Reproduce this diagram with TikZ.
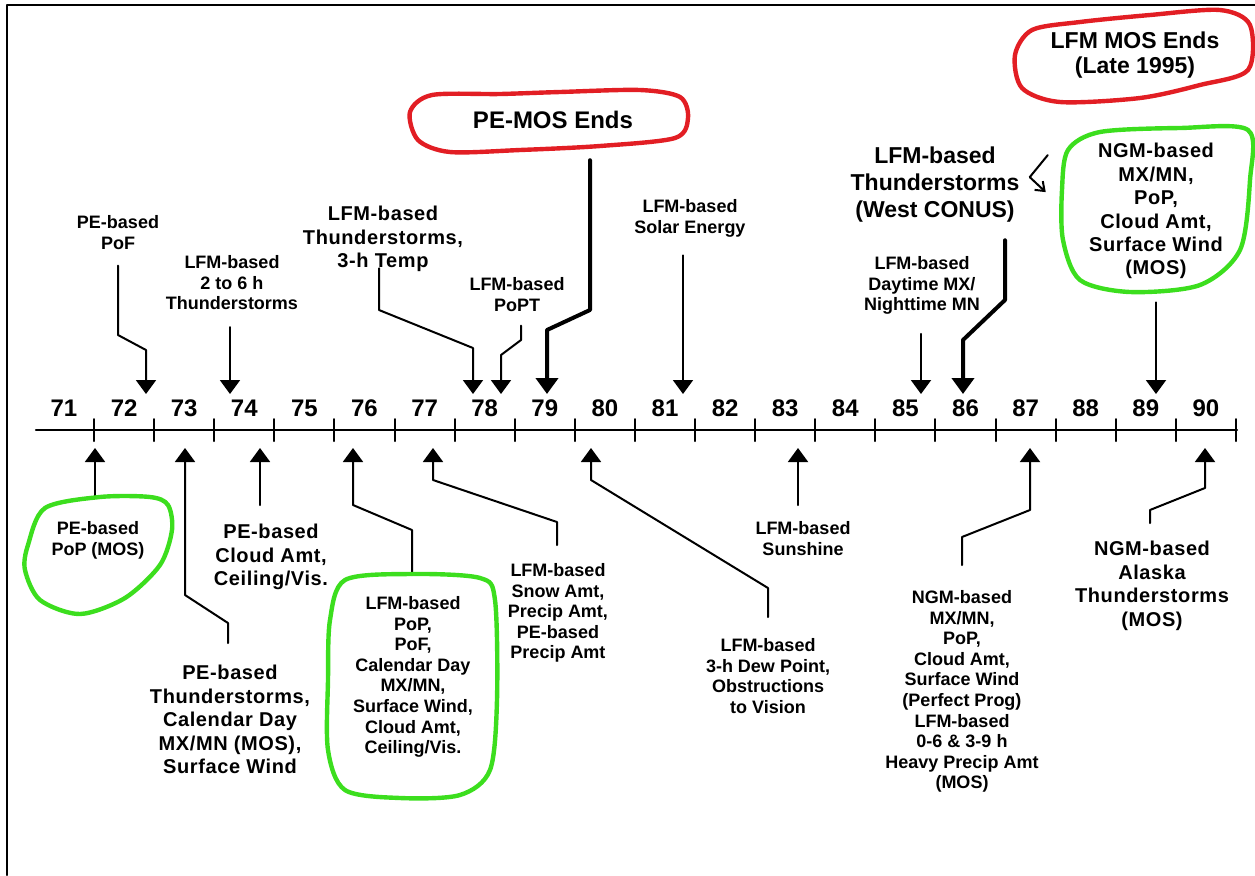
\documentclass[tikz,border=0pt]{standalone}
\usepackage{fontspec}
\setmainfont{Liberation Sans}
\newfontfamily\wideface[LetterSpace=3]{Liberation Sans}
\usetikzlibrary{arrows.meta}
\definecolor{markred}{RGB}{226,30,36}
\definecolor{markgreen}{RGB}{60,222,30}

\begin{document}
\begin{tikzpicture}[x=0.5pt, y=-0.5pt, line join=round, line cap=round,
	>={Triangle[width=10pt,length=7pt]},
	year/.style={font=\fontsize{12}{12}\selectfont\bfseries, inner sep=0pt},
	cond/.style={anchor=north, align=center, inner sep=0pt, font=\fontsize{9}{10.3}\selectfont\bfseries},
	wide/.style={anchor=north, align=center, inner sep=0pt, font=\wideface\fontsize{10}{11.7}\selectfont\bfseries},
	big/.style={anchor=north, align=center, inner sep=0pt, font=\fontsize{11.5}{13.5}\selectfont\bfseries},
	link/.style={line width=1pt, ->},
	heavy/.style={line width=2pt, -{Triangle[width=11pt,length=8pt]}},
	ring/.style={line width=2.2pt}]
	\useasboundingbox (0,0) rectangle (1255,875);
	\draw[line width=1.2pt] (7,875) -- (7,5) -- (1255,5); % khung

	% truc thoi gian
	\draw[line width=1.2pt] (36,430) -- (1237,430);
	\foreach \k in {0,...,19}{
		\pgfmathtruncatemacro\yr{71+\k}
		\draw[line width=1pt] ({94+60.1*\k},419) -- ({94+60.1*\k},441);
		\node[year] (y\yr) at ({64+60.1*\k},408) {\yr};
	}

	% phia tren truc
	\node[cond] (pof) at (118,215) {PE-based\\PoF};
	\node[cond] (thsix) at (232,255) {LFM-based\\2 to 6 h\\Thunderstorms};
	\node[wide] (thtemp) at (383,206) {LFM-based\\Thunderstorms,\\3-h Temp};
	\node[cond] (popt) at (517,277) {LFM-based\\PoPT};
	\node[cond] (solar) at (690,199) {LFM-based\\Solar Energy};
	\node[big] (wconus) at (935,146) {LFM-based\\Thunderstorms\\(West CONUS)};
	\node[cond] (daymx) at (922,256) {LFM-based\\Daytime MX/\\Nighttime MN};
	\node[wide] (ngmtop) at (1156,143) {NGM-based\\MX/MN,\\PoP,\\Cloud Amt,\\Surface Wind\\(MOS)};
	\node[inner sep=0pt, font=\fontsize{12}{14}\selectfont\bfseries] (pemos) at (553,120) {PE-MOS Ends};
	\node[align=center, inner sep=0pt, font=\fontsize{11.5}{12.5}\selectfont\bfseries] (lfmend) at (1135,55) {LFM MOS Ends\\(Late 1995)};

	\coordinate (pof-end) at (146,394);
	\coordinate (thsix-end) at (230,394);
	\coordinate (thtemp-end) at (473,394);
	\coordinate (popt-end) at (501,394);
	\coordinate (pemos-end) at (547,394);
	\coordinate (solar-end) at (683,394);
	\coordinate (daymx-end) at (921,394);
	\coordinate (wconus-end) at (963,394);
	\coordinate (ngmtop-end) at (1156,394);

	\draw[link] (pof.south) ++(0,16) -- (118,335) -- (146,350) -- (pof-end);
	\draw[link] (thsix.south) ++(-2,17) -- (thsix-end);
	\draw[link] (thtemp.south) ++(-4,-4) -- (379,310) -- (473,348) -- (thtemp-end);
	\draw[link] (popt.south) ++(4,14) -- (521,340) -- (501,355) -- (popt-end);
	\draw[heavy] (pemos.south) ++(37,31) -- (590,310) -- (547,330) -- (pemos-end);
	\draw[link] (solar.south) ++(-7,18) -- (solar-end);
	\draw[link] (daymx.south) ++(-1,19) -- (daymx-end);
	\draw[heavy] (wconus.south) ++(70,18) -- (1005,300) -- (963,340) -- (wconus-end);
	\draw[link] (ngmtop.south) ++(0,23) -- (ngmtop-end);
	\draw[line width=1pt, -{Straight Barb[length=4pt,width=6pt]}] (wconus.east) ++(28,-29) -- ++(-18,22) -- ++(16,15);

	% phia duoi truc
	\node[cond] (popmos) at (98,521) {PE-based\\PoP (MOS)};
	\node[wide] (thunpe) at (230,665) {PE-based\\Thunderstorms,\\Calendar Day\\MX/MN (MOS),\\Surface Wind};
	\node[wide] (cloudpe) at (271,524) {PE-based\\Cloud Amt,\\Ceiling/Vis.};
	\node[cond] (lfmpop) at (413,596) {LFM-based\\PoP,\\PoF,\\Calendar Day\\MX/MN,\\Surface Wind,\\Cloud Amt,\\Ceiling/Vis.};
	\node[cond] (snow) at (558,563) {LFM-based\\Snow Amt,\\Precip Amt,\\PE-based\\Precip Amt};
	\node[cond] (dew) at (768,638) {LFM-based\\3-h Dew Point,\\Obstructions\\to Vision};
	\node[cond] (sunsh) at (803,521) {LFM-based\\Sunshine};
	\node[cond] (ngmpp) at (962,590) {NGM-based\\MX/MN,\\PoP,\\Cloud Amt,\\Surface Wind\\(Perfect Prog)\\LFM-based\\0-6 \& 3-9 h\\Heavy Precip Amt\\(MOS)};
	\node[wide] (alaska) at (1152,541) {NGM-based\\Alaska\\Thunderstorms\\(MOS)};

	\coordinate (popmos-end) at (95,448);
	\coordinate (thunpe-end) at (185,448);
	\coordinate (cloudpe-end) at (260,448);
	\coordinate (lfmpop-end) at (353,448);
	\coordinate (snow-end) at (433,448);
	\coordinate (dew-end) at (591,448);
	\coordinate (sunsh-end) at (798,448);
	\coordinate (ngmpp-end) at (1030,448);
	\coordinate (alaska-end) at (1205,448);

	\draw[link] (popmos.north) ++(-3,-23) -- (popmos-end);
	\draw[link] (thunpe.north) ++(-2,-22) -- (228,623) -- (185,595) -- (thunpe-end);
	\draw[link] (cloudpe.north) ++(-11,-19) -- (cloudpe-end);
	\draw[link] (lfmpop.north) ++(-1,-21) -- (412,530) -- (353,505) -- (lfmpop-end);
	\draw[link] (snow.north) ++(-1,-18) -- (557,522) -- (433,480) -- (snow-end);
	\draw[link] (dew.north) ++(0,-21) -- (768,588) -- (591,480) -- (dew-end);
	\draw[link] (sunsh.north) ++(-5,-16) -- (sunsh-end);
	\draw[link] (ngmpp.north) ++(0,-25) -- (962,537) -- (1030,510) -- (ngmpp-end);
	\draw[link] (alaska.north) ++(-2,-18) -- (1150,510) -- (1205,488) -- (alaska-end);

	% vong khoanh tay
	\draw[markred, ring] plot[smooth cycle] coordinates {(410,112) (432,95) (500,94) (560,92) (640,90) (680,97) (688,118) (675,138) (600,146) (520,150) (450,152) (418,140)};
	\draw[markred, ring] plot[smooth cycle] coordinates {(1015,55) (1032,30) (1080,22) (1150,15) (1220,10) (1250,25) (1248,70) (1200,85) (1140,98) (1060,102) (1022,88)};
	\draw[markgreen, ring] plot[smooth cycle] coordinates {(1068,150) (1100,132) (1180,128) (1248,130) (1250,180) (1240,250) (1200,285) (1130,292) (1080,280) (1063,240) (1062,190)};
	\draw[markgreen, ring] plot[smooth cycle] coordinates {(28,545) (45,508) (100,497) (150,497) (168,505) (172,530) (160,565) (125,598) (80,614) (40,600) (25,570)};
	\draw[markgreen, ring] plot[smooth cycle] coordinates {(330,620) (345,580) (410,574) (480,578) (495,600) (497,700) (490,770) (460,795) (400,798) (345,790) (328,750) (328,680)};
\end{tikzpicture}
\end{document}
